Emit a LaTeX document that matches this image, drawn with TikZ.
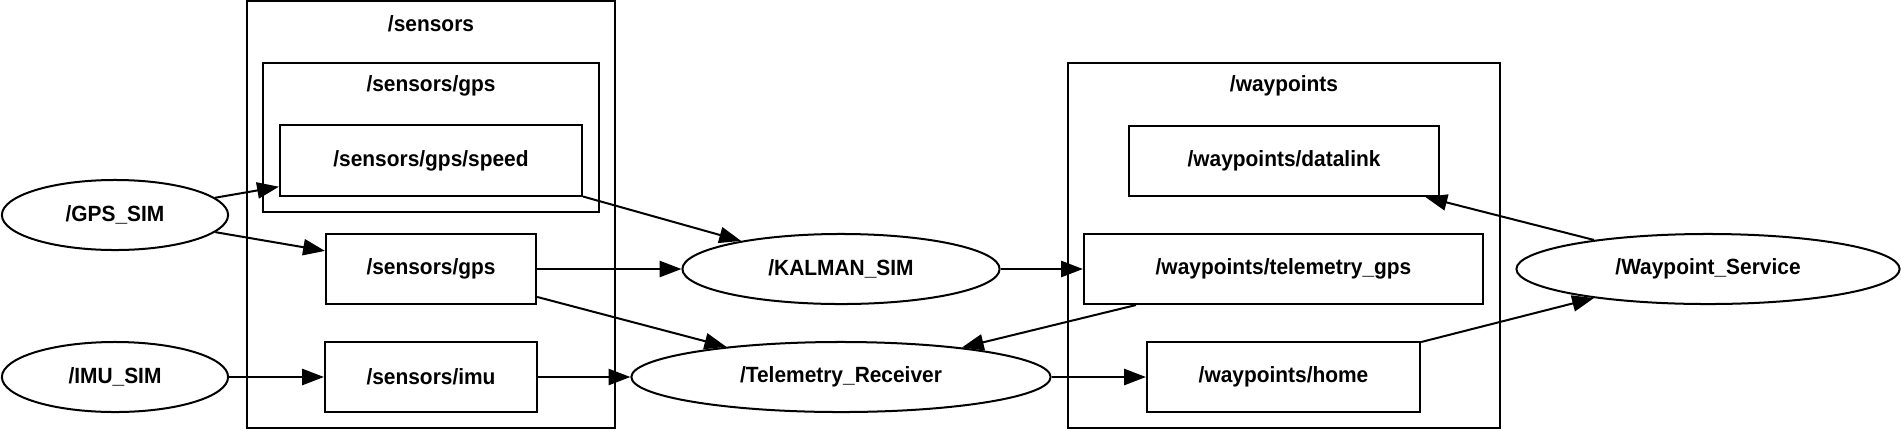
\documentclass[tikz,border=0pt]{standalone}
\usepackage{fontspec}
\newfontfamily\lblfont{Liberation Sans Bold}[FakeStretch=0.95]
\usetikzlibrary{shapes.geometric,arrows.meta}
\begin{document}
\begin{tikzpicture}[x=0.01cm,y=-0.01cm,
  every node/.style={font=\lblfont\fontsize{6.26pt}{7.5pt}\selectfont, inner sep=0pt},
  topic/.style={draw, line width=0.57pt, rectangle, minimum height=0.70cm},
  rosnode/.style={draw, line width=0.57pt, ellipse, minimum height=0.70cm},
  cluster/.style={draw, line width=0.57pt},
  edge/.style={line width=0.57pt, -{Triangle[length=6.2pt,width=4.6pt]}}]
\useasboundingbox (0,0) rectangle (1901,430);
% clusters
\draw[cluster] (247,1) rectangle (615,428);
\node (lsensors) at (431,24) {/sensors};
\draw[cluster] (263,63) rectangle (599,212);
\node (lsensorsgps) at (431,86) {/sensors/gps};
\draw[cluster] (1068,63) rectangle (1500,428);
\node (lwaypoints) at (1284,86) {/waypoints};
% topics
\node[topic, minimum width=3.02cm] (speed) at (431,160.5) {/sensors/gps/speed};
\node[topic, minimum width=2.10cm] (sgps) at (431,269) {/sensors/gps};
\node[topic, minimum width=2.12cm] (simu) at (431,377) {/sensors/imu};
\node[topic, minimum width=3.10cm] (datalink) at (1284,161) {/waypoints/datalink};
\node[topic, minimum width=3.99cm] (telgps) at (1283.5,269) {/waypoints/telemetry\_gps};
\node[topic, minimum width=2.73cm] (home) at (1283.5,377) {/waypoints/home};
% ros nodes
\node[rosnode, minimum width=2.26cm] (gpssim) at (115,215) {/GPS\_SIM};
\node[rosnode, minimum width=2.26cm] (imusim) at (115,377) {/IMU\_SIM};
\node[rosnode, minimum width=3.17cm] (kalman) at (841,269) {/KALMAN\_SIM};
\node[rosnode, minimum width=4.19cm] (telrx) at (841,377) {/Telemetry\_Receiver};
\node[rosnode, minimum width=3.83cm] (wpsvc) at (1708,269) {/Waypoint\_Service};
% edges
\draw[edge] (gpssim) -- (speed);
\draw[edge] (gpssim) -- (sgps);
\draw[edge] (imusim) -- (simu);
\draw[edge] (simu) -- (telrx);
\draw[edge] (speed.south east) -- (kalman);
\draw[edge] (sgps) -- (kalman);
\draw[edge] (sgps) -- (telrx);
\draw[edge] (kalman) -- (telgps);
\draw[edge] (telgps) -- (telrx);
\draw[edge] (telrx) -- (home);
\draw[edge] (home) -- (wpsvc);
\draw[edge] (wpsvc) -- (datalink);
\end{tikzpicture}
\end{document}
